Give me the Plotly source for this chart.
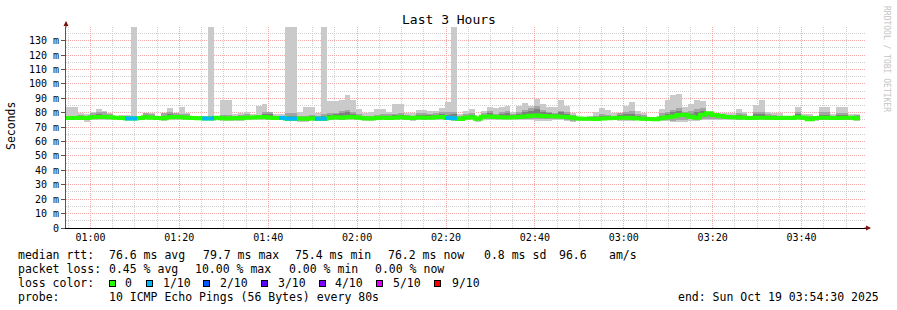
import plotly.graph_objects as go
import pandas as pd

# ---------------- data (80 s steps, 3 hours ending Sun Oct 19 03:54:30 2025) ----------------
start_time = "2025-10-19 00:54:30"
end_time = "2025-10-19 03:54:30"
step_s = 80

median = [76.4, 76.4, 76.5, 76.3, 76.8, 77.0, 77.0, 76.8, 76.5, 76.3,
          76.0, 76.0, 76.4, 76.8, 76.6, 76.3, 76.2, 76.9, 77.0, 76.8,
          76.6, 76.4, 76.1, 76.0, 76.0, 76.5, 76.2, 76.0, 76.4, 76.2,
          76.5, 76.7, 76.8, 77.0, 76.6, 76.3, 76.4, 75.9, 75.9, 76.0,
          75.8, 76.2, 75.9, 75.9, 76.6, 76.8, 76.5, 76.9, 77.1, 76.6,
          76.2, 76.0, 76.4, 76.5, 76.4, 76.6, 76.8, 76.5, 76.3, 76.7,
          76.5, 76.6, 76.9, 77.0, 76.4, 76.2, 75.7, 76.6, 76.8, 75.9,
          77.2, 77.4, 77.0, 76.8, 76.7, 76.9, 77.1, 77.3, 77.9, 78.1,
          77.8, 77.5, 77.6, 77.2, 77.0, 76.5, 76.0, 75.9, 75.8, 75.7,
          76.0, 76.2, 76.3, 76.6, 76.5, 76.3, 76.0, 75.9, 75.6, 75.4,
          76.2, 76.8, 77.4, 78.4, 78.6, 77.2, 76.6, 78.6, 79.7, 78.4,
          77.8, 77.1, 76.9, 76.7, 76.6, 76.4, 76.5, 76.6, 76.5, 76.4,
          76.3, 76.5, 76.3, 76.8, 76.5, 75.5, 76.3, 76.6, 76.5, 76.4,
          76.4, 76.6, 76.5, 76.2]

ping_max = [84, 84, 80, 79, 80.5, 82.5, 81.5, 80, 78, 78.5,
            78.5, 150, 77.5, 80, 80, 77.5, 80, 83, 80, 84,
            80, 78, 78, 77.5, 150, 77.5, 88.5, 88.5, 79, 80,
            80.7, 79, 84.6, 86, 80, 79, 79, 150, 150, 80.5,
            84, 84, 80, 150, 88, 88, 88.5, 92, 88.5, 82.5,
            80, 80.5, 82.5, 82.5, 80.5, 86, 86, 80, 80, 82,
            82, 81, 81, 83, 87.5, 150, 79, 81.5, 82.5, 78,
            81.5, 84, 83, 84, 85, 80.5, 85, 86.5, 85, 89.7,
            86, 84, 84, 88.5, 85, 80, 77, 77, 77.5, 80.5,
            83, 82, 80, 80, 85, 87.5, 81.5, 80, 77, 76.5,
            82.5, 88.5, 92, 93, 84, 86, 88.5, 88, 80.5, 80,
            79.5, 79.5, 80, 82.5, 80.5, 78, 85.5, 88.5, 80.5, 80,
            80, 78, 77, 84, 79, 79, 78, 84, 84, 79,
            84, 84, 79, 79]

ping_min = [75.0, 75.0, 74.8, 73.8, 74.9, 75.0, 75.1, 74.9, 75.0, 74.8,
            74.9, 74.8, 75.0, 75.0, 75.1, 74.9, 74.6, 75.0, 75.1, 75.0,
            74.9, 74.9, 74.7, 74.8, 74.8, 74.9, 74.6, 74.5, 74.2, 74.6,
            74.9, 75.0, 75.0, 75.1, 74.9, 74.8, 74.8, 74.3, 74.3, 73.8,
            73.7, 74.2, 74.6, 74.6, 74.8, 74.9, 74.8, 75.0, 75.1, 74.9,
            74.3, 74.2, 74.7, 74.9, 74.8, 74.9, 75.0, 74.8, 74.6, 74.9,
            74.8, 74.9, 75.0, 75.1, 74.8, 74.6, 74.4, 74.9, 75.0, 73.8,
            75.0, 75.2, 75.0, 74.9, 74.9, 75.0, 75.1, 75.1, 75.0, 74.6,
            74.4, 74.6, 75.0, 74.8, 74.0, 73.9, 74.3, 74.5, 74.6, 74.6,
            74.7, 74.8, 74.9, 74.6, 74.4, 74.6, 74.7, 74.5, 74.0, 74.3,
            74.6, 74.0, 73.6, 73.5, 73.8, 74.6, 74.3, 74.8, 75.0, 75.0,
            75.0, 74.9, 74.9, 74.8, 74.9, 74.8, 74.8, 74.9, 74.8, 74.7,
            74.8, 74.8, 74.7, 74.9, 74.8, 74.0, 74.6, 74.8, 74.8, 74.7,
            74.7, 74.8, 74.8, 74.5]

ping_2nd_hi = [78.0, 77.6, 78.5, 78.0, 79.8, 80.5, 80.2, 78.8, 77.5, 77.6,
               77.4, 78.0, 77.2, 79.8, 79.0, 77.0, 79.5, 80.8, 79.6, 79.0,
               79.0, 77.5, 77.4, 77.2, 78.0, 77.2, 78.5, 78.2, 78.0, 78.2,
               79.0, 77.8, 78.6, 80.2, 80.5, 78.0, 78.0, 79.5, 79.5, 77.8,
               77.6, 78.2, 77.8, 79.0, 79.8, 80.0, 81.5, 82.0, 80.2, 79.0,
               77.8, 77.6, 78.5, 79.2, 78.8, 79.2, 79.6, 78.2, 77.8, 79.5,
               80.0, 79.4, 80.0, 80.5, 80.2, 80.6, 77.4, 79.0, 80.0, 77.0,
               79.5, 81.0, 79.2, 80.5, 81.0, 79.2, 80.2, 82.0, 83.0, 84.5,
               82.0, 80.5, 80.0, 81.5, 80.5, 78.2, 76.6, 76.5, 76.8, 78.0,
               79.0, 78.5, 78.0, 79.5, 80.8, 81.5, 79.0, 78.2, 76.4, 76.2,
               79.5, 80.5, 82.0, 83.0, 80.5, 81.0, 82.5, 83.5, 79.5, 79.2,
               78.8, 78.2, 78.5, 79.5, 78.8, 77.3, 80.8, 80.8, 79.0, 78.2,
               78.0, 77.4, 76.8, 80.8, 78.0, 77.6, 77.2, 80.2, 80.2, 78.0,
               80.0, 80.0, 77.8, 78.5]

ping_2nd_lo = [75.4, 75.4, 75.3, 74.8, 75.4, 75.5, 75.6, 75.4, 75.4, 75.3,
               75.3, 75.2, 75.5, 75.5, 75.6, 75.4, 75.1, 75.5, 75.6, 75.5,
               75.4, 75.4, 75.2, 75.2, 75.2, 75.4, 75.1, 75.0, 74.9, 75.1,
               75.4, 75.5, 75.5, 75.6, 75.4, 75.3, 75.3, 74.8, 74.8, 74.6,
               74.5, 74.9, 75.1, 75.1, 75.3, 75.4, 75.3, 75.5, 75.6, 75.4,
               74.9, 74.8, 75.2, 75.4, 75.3, 75.4, 75.5, 75.3, 75.1, 75.4,
               75.3, 75.4, 75.5, 75.6, 75.2, 75.0, 74.9, 75.4, 75.5, 74.6,
               75.6, 75.8, 75.6, 75.4, 75.4, 75.5, 75.7, 75.7, 75.8, 75.6,
               75.4, 75.4, 75.6, 75.4, 74.8, 74.6, 74.9, 75.0, 75.1, 75.1,
               75.2, 75.3, 75.4, 75.2, 75.0, 75.1, 75.2, 75.0, 74.6, 74.8,
               75.2, 74.8, 74.6, 74.8, 75.0, 75.4, 75.0, 75.6, 75.8, 75.7,
               75.6, 75.4, 75.4, 75.3, 75.4, 75.3, 75.3, 75.4, 75.3, 75.2,
               75.3, 75.3, 75.2, 75.4, 75.3, 74.6, 75.1, 75.3, 75.3, 75.2,
               75.2, 75.3, 75.3, 75.0]

ping_3rd_hi = [77.2, 77.0, 77.4, 77.2, 78.5, 79.0, 78.6, 77.8, 77.0, 77.0,
               76.8, 77.2, 76.9, 78.6, 78.0, 76.6, 77.8, 79.2, 78.2, 77.8,
               77.8, 76.9, 76.8, 76.6, 77.0, 76.8, 77.4, 77.2, 77.0, 77.2,
               77.8, 77.4, 77.6, 79.0, 79.2, 77.2, 77.2, 78.0, 78.0, 77.0,
               76.8, 77.4, 77.0, 77.8, 78.4, 78.8, 80.0, 80.6, 79.0, 78.0,
               77.0, 76.8, 77.6, 78.0, 77.8, 78.2, 78.4, 77.4, 77.0, 78.4,
               78.6, 78.2, 78.6, 79.0, 78.6, 78.8, 76.6, 78.0, 78.6, 76.6,
               78.6, 79.6, 78.4, 79.2, 79.6, 78.2, 79.0, 80.2, 81.0, 82.5,
               80.5, 79.5, 79.2, 80.2, 79.0, 77.6, 76.4, 76.3, 76.4, 77.0,
               77.8, 77.6, 77.4, 78.4, 79.0, 79.4, 77.8, 77.2, 76.2, 76.0,
               78.0, 79.0, 80.4, 81.5, 79.8, 79.4, 80.5, 81.5, 80.8, 79.8,
               78.6, 77.8, 77.8, 78.4, 77.8, 77.0, 79.2, 79.4, 77.8, 77.4,
               77.2, 77.0, 76.6, 79.4, 77.2, 76.4, 76.8, 78.6, 78.6, 77.2,
               78.6, 78.6, 77.2, 77.6]

ping_3rd_lo = [75.8, 75.8, 75.8, 75.6, 76.0, 76.2, 76.2, 76.0, 75.8, 75.6,
               75.5, 75.4, 75.8, 76.0, 75.9, 75.6, 75.5, 76.1, 76.2, 76.0,
               75.9, 75.7, 75.5, 75.4, 75.4, 75.8, 75.5, 75.4, 75.6, 75.5,
               75.8, 76.0, 76.0, 76.2, 75.9, 75.6, 75.7, 75.2, 75.2, 75.2,
               75.1, 75.5, 75.3, 75.3, 75.9, 76.0, 75.8, 76.1, 76.3, 75.9,
               75.5, 75.3, 75.7, 75.8, 75.7, 75.9, 76.0, 75.8, 75.6, 75.9,
               75.8, 75.9, 76.1, 76.2, 75.7, 75.5, 75.1, 75.9, 76.0, 75.2,
               76.3, 76.5, 76.2, 76.0, 75.9, 76.1, 76.3, 76.4, 76.9, 77.0,
               76.8, 76.6, 76.7, 76.3, 76.0, 75.6, 75.3, 75.3, 75.2, 75.1,
               75.4, 75.6, 75.7, 75.9, 75.7, 75.6, 75.4, 75.3, 75.0, 74.9,
               75.5, 75.9, 76.3, 77.0, 77.2, 76.4, 75.9, 77.2, 77.8, 77.3,
               76.9, 76.4, 76.2, 76.0, 75.9, 75.8, 75.8, 75.9, 75.8, 75.7,
               75.7, 75.8, 75.7, 76.0, 75.8, 75.0, 75.7, 75.9, 75.8, 75.7,
               75.7, 75.9, 75.8, 75.6]

# lost pings (of 10) per step
lost_pings = [0] * 134
for k in [11, 24, 37, 38, 43, 65]:
    lost_pings[k] = 1

loss_levels = ["0", "1/10", "2/10", "3/10", "4/10", "5/10", "9/10"]
loss_colors = ["#26ff00", "#00b8ff", "#0059ff", "#5e00ff", "#7e00ff", "#dd00ff", "#ff0000"]

ytick_vals = [0, 10, 20, 30, 40, 50, 60, 70, 80, 90, 100, 110, 120, 130]
ytick_text = ["0", "10 m", "20 m", "30 m", "40 m", "50 m", "60 m", "70 m",
              "80 m", "90 m", "100 m", "110 m", "120 m", "130 m"]

stats_rtt = ["76.6 ms avg", "79.7 ms max", "75.4 ms min", "76.2 ms now", "0.8 ms sd", "96.6", "am/s"]
stats_loss = ["0.45 % avg", "10.00 % max", "0.00 % min", "0.00 % now"]
probe_text = "10 ICMP Echo Pings (56 Bytes) every 80s"
end_text = "end: Sun Oct 19 03:54:30 2025"

# ---------------- build ----------------
n = len(median)
t0 = pd.Timestamp(start_time)
starts = [t0 + pd.Timedelta(seconds=step_s * i) for i in range(n)]
ends = [s + pd.Timedelta(seconds=step_s) for s in starts]
centers = [s + pd.Timedelta(seconds=step_s / 2) for s in starts]
bar_w = step_s * 1000

MONO = "DejaVu Sans Mono"
fig = go.Figure()

def band(lo, hi, color):
    fig.add_trace(go.Bar(
        x=centers, y=[h - l for h, l in zip(hi, lo)], base=lo, width=bar_w,
        marker=dict(color=color, line=dict(width=0)), hoverinfo="skip", showlegend=False))

band(ping_min, ping_max, "#cacaca")
band(ping_2nd_lo, ping_2nd_hi, "#a4a4a4")
band(ping_3rd_lo, ping_3rd_hi, "#7e7e7e")

# median line (green base)
fig.add_trace(go.Scatter(
    x=starts + [ends[-1]], y=median + [median[-1]], mode="lines",
    line=dict(color=loss_colors[0], width=4, shape="hv"), hoverinfo="skip", showlegend=False))

# loss-coloured median segments (rrd shows loss shifted one step back as well)
for lvl in range(1, len(loss_colors)):
    xs, ys = [], []
    for i in range(n):
        nxt = lost_pings[i + 1] if i + 1 < n else 0
        shown = max(lost_pings[i], nxt)
        li = shown if shown <= 5 else 6
        if shown > 0 and li == lvl:
            xs += [starts[i], ends[i], None]
            ys += [median[i], median[i], None]
    if xs:
        fig.add_trace(go.Scatter(x=xs, y=ys, mode="lines",
                                 line=dict(color=loss_colors[lvl], width=4),
                                 hoverinfo="skip", showlegend=False))

# ---------------- layout ----------------
L, R, T, B = 66, 866, 27, 228
W, H = 897, 310

def px(x):
    return (x - L) / (R - L)

def py(y):
    return (B - y) / (B - T)

ann = []
def text(x, y, s, size=11.5, color="#000000", xanchor="left", angle=0):
    ann.append(dict(x=px(x), y=py(y), xref="paper", yref="paper", text=s, showarrow=False,
                    xanchor=xanchor, yanchor="middle", textangle=angle,
                    font=dict(family=MONO, size=size, color=color)))

text(448.5, 19.5, "Last 3 Hours", size=13, xanchor="center")
text(11, 126, "Seconds", size=11.5, xanchor="center", angle=-90)
text(887, 59, "RRDTOOL / TOBI OETIKER", size=8, color="#c4c4c4", xanchor="center", angle=90)

y1, y2, y3, y4 = 254.5, 268.5, 282.5, 296.5
text(16, y1, "median rtt:")
for s, x in zip(stats_rtt, [107.3, 200.7, 293.3, 386.0, 481.7, 557.3, 606.7]):
    text(x, y1, s)
text(16, y2, "packet loss:")
for s, x in zip(stats_loss, [107.3, 193.3, 286.7, 372.7]):
    text(x, y2, s)
text(16, y3, "loss color:")
box_x = [108.7, 146.0, 203.3, 261.3, 318.7, 376.0, 434.0]
lab_x = [123.3, 160.7, 218.0, 276.0, 333.3, 390.7, 450.0]
for lbl, col, bx, lx in zip(loss_levels, loss_colors, box_x, lab_x):
    ann.append(dict(x=px(bx + 3.5), y=py(y3 + 0.5), xref="paper", yref="paper", text=" ",
                    showarrow=False, xanchor="center", yanchor="middle",
                    width=5, height=5, borderpad=0, bgcolor=col, bordercolor="#000000",
                    borderwidth=1, font=dict(size=4)))
    text(lx, y3, lbl)
text(16, y4, "probe:")
text(107.3, y4, probe_text)
text(880.5, y4, end_text, xanchor="right")

# axis arrows
ann.append(dict(x=0, y=py(21), xref="paper", yref="paper", ax=0, ay=8, axref="pixel", ayref="pixel",
                showarrow=True, arrowhead=2, arrowsize=1, arrowwidth=1, arrowcolor="#7a1010", text=""))
ann.append(dict(x=px(871), y=0, xref="paper", yref="paper", ax=-8, ay=0, axref="pixel", ayref="pixel",
                showarrow=True, arrowhead=2, arrowsize=1, arrowwidth=1, arrowcolor="#7a1010", text=""))

fig.update_layout(
    width=W, height=H, margin=dict(l=L, r=W - R, t=T, b=H - B, pad=0),
    paper_bgcolor="#ffffff", plot_bgcolor="#ffffff",
    barmode="overlay", bargap=0, showlegend=False,
    annotations=ann,
    font=dict(family=MONO, size=10, color="#000000"),
)
fig.update_xaxes(
    type="date", range=[start_time, end_time],
    tick0="2025-10-19 01:00:00", dtick=20 * 60 * 1000, tickformat="%H:%M",
    showgrid=True, gridcolor="#f4a8a8", griddash="1px,1px", gridwidth=1,
    minor=dict(dtick=5 * 60 * 1000, tick0="2025-10-19 01:00:00", showgrid=True,
               gridcolor="#cfcfcf", griddash="1px,1px", gridwidth=1),
    showline=True, linecolor="#000000", linewidth=1, zeroline=False,
    ticks="", ticklen=0,
    tickfont=dict(family=MONO, size=10, color="#000000"),
)
fig.update_yaxes(
    range=[0, 139.5], tickvals=ytick_vals, ticktext=ytick_text,
    showgrid=True, gridcolor="#f4a8a8", griddash="1px,1px", gridwidth=1,
    minor=dict(dtick=5, showgrid=True, gridcolor="#cfcfcf", griddash="1px,1px", gridwidth=1),
    showline=True, linecolor="#555555", linewidth=1, zeroline=False,
    ticks="outside", ticklen=4, tickcolor="#555555",
    tickfont=dict(family=MONO, size=10, color="#000000"),
)

fig.write_html("out.html")
